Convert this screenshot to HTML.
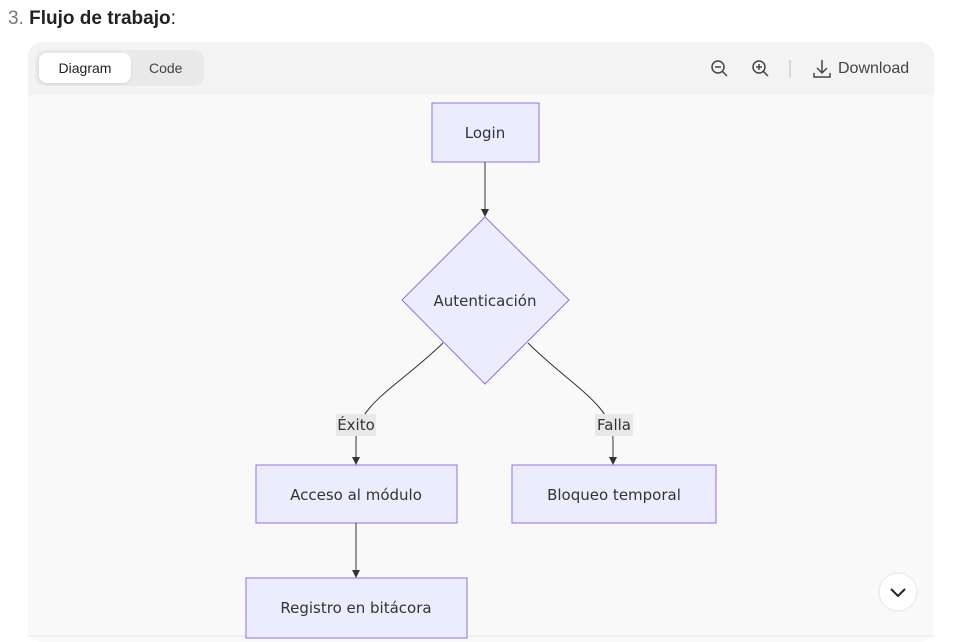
<!DOCTYPE html>
<html><head><meta charset="utf-8"><style>
body{margin:0;width:962px;height:640px;background:#fff;overflow:hidden;font-family:"Liberation Sans",sans-serif;position:relative}
.t{position:absolute;left:8px;top:8px;font-size:19px;color:#222}
.t span{color:#777}
.box{position:absolute;left:28px;top:42px;width:906px;height:600px;background:#f9f9f9;border-radius:14px;overflow:hidden}
.hd{position:absolute;left:0;top:0;width:906px;height:53px;background:#f3f3f3}
.tabs{position:absolute;left:7px;top:8px;width:169px;height:36px;background:#e9e9e9;border-radius:10px}
.tab1{position:absolute;left:4px;top:3px;width:92px;height:30px;background:#fff;border-radius:8px;box-shadow:0 1px 2px rgba(0,0,0,.1);font-size:14px;line-height:30px;text-align:center;color:#222}
.tab2{position:absolute;left:114px;top:3px;font-size:14px;line-height:30px;color:#444}
.dl{position:absolute;left:810px;top:18px;font-size:16px;color:#444}
</style></head><body>
<div class="t"><span>3.</span> <b>Flujo de trabajo</b>:</div>
<div class="box"><div class="hd"><div class="tabs"><div class="tab1">Diagram</div><div class="tab2">Code</div></div>
<div class="dl">Download</div></div></div>
<svg style="position:absolute;left:0;top:0" width="962" height="640" font-family="DejaVu Sans, sans-serif">
<defs><marker id="a" markerWidth="8" markerHeight="8" refX="7" refY="4" orient="auto" markerUnits="userSpaceOnUse"><path d="M0,0L8,4L0,8z" fill="#333"/></marker></defs>
<g fill="none" stroke="#444" stroke-width="1.5">
<circle cx="718" cy="67" r="6"/><path d="M722,71l5,5M715,67h6"/>
<circle cx="759" cy="67" r="6"/><path d="M763,71l5,5M756,67h6M759,64v6"/>
<path d="M790,60v17" stroke="#ccc"/>
<path d="M822,60v13M817,68l5,5l5-5M814,73v4h16v-4"/>
</g>
<circle cx="898" cy="592" r="19" fill="#fff" stroke="#e6e6e6"/>
<path d="M891,589l7,7l7-7" fill="none" stroke="#222" stroke-width="2"/>
<line x1="28" y1="636" x2="934" y2="636" stroke="#e6e6e6"/>
<g fill="#ececff" stroke="#9370db" stroke-width="1">
<rect x="432" y="103" width="107" height="59"/>
<path d="M485,217L569,300L485,384L402,300z"/>
<rect x="256" y="465" width="201" height="58"/>
<rect x="512" y="465" width="204" height="58"/>
<rect x="246" y="578" width="221" height="60"/>
</g>
<g fill="none" stroke="#333" stroke-width="1">
<path d="M485,162V216" marker-end="url(#a)"/>
<path d="M443,343C400,385 356,405 356,440V464" marker-end="url(#a)"/>
<path d="M528,343C570,385 613,405 613,440V464" marker-end="url(#a)"/>
<path d="M356,523V577" marker-end="url(#a)"/>
</g>
<rect x="336" y="414" width="40" height="22" fill="#e8e8e8"/>
<rect x="595" y="414" width="38" height="22" fill="#e8e8e8"/>
<g font-size="15" fill="#333" text-anchor="middle">
<text x="485" y="306">Autenticación</text>
<text x="485" y="138">Login</text>
<text x="356" y="430">Éxito</text>
<text x="614" y="430">Falla</text>
<text x="356" y="500">Acceso al módulo</text>
<text x="614" y="500">Bloqueo temporal</text>
<text x="356" y="613">Registro en bitácora</text>
</g>
</svg>
</body></html>
